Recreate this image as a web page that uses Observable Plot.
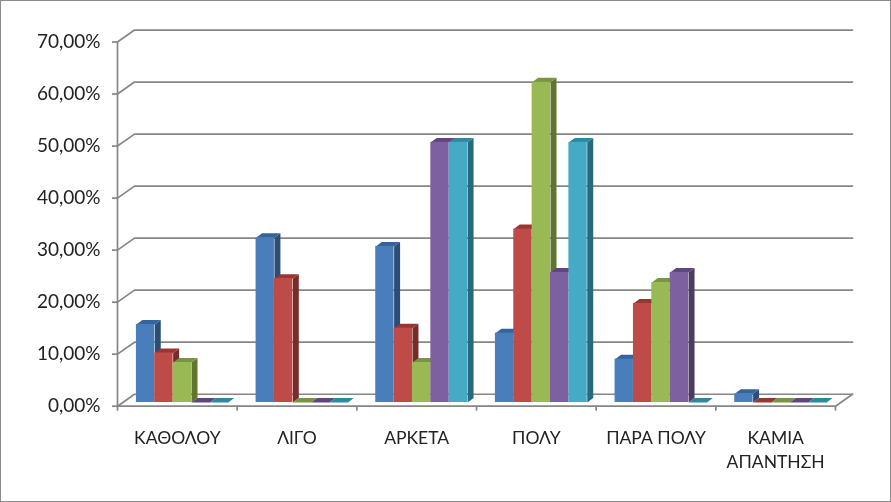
<!DOCTYPE html>
<html>
<head>
<meta charset="utf-8">
<script src="https://cdn.jsdelivr.net/npm/d3@7"></script>
<script src="https://cdn.jsdelivr.net/npm/@observablehq/plot@0.6"></script>
<style>
html,body{margin:0;padding:0;background:#fff}
svg{display:block;outline:1px solid #8a8a8a;outline-offset:-1px;filter:blur(0.35px)}
</style>
</head>
<body>
<div id="chart"></div>
<script>
const categories = ["ΚΑΘΟΛΟΥ", "ΛΙΓΟ", "ΑΡΚΕΤΑ", "ΠΟΛΥ", "ΠΑΡΑ ΠΟΛΥ", "ΚΑΜΙΑ\nΑΠΑΝΤΗΣΗ"];
const blueValues   = [15.00, 31.67, 30.00, 13.33, 8.33, 1.67];
const redValues    = [9.52, 23.81, 14.29, 33.33, 19.05, 0];
const greenValues  = [7.69, 0, 7.69, 61.54, 23.08, 0];
const purpleValues = [0, 0, 50.00, 25.00, 25.00, 0];
const tealValues   = [0, 0, 50.00, 50.00, 0, 0];
const yTicks = [0, 10, 20, 30, 40, 50, 60, 70];

const seriesStyles = [
  {values: blueValues,   front: "#4a7ebb", top: "#35639c", side: "#2c4d75"},
  {values: redValues,    front: "#be4b48", top: "#9a3532", side: "#772c2a"},
  {values: greenValues,  front: "#98b954", top: "#78953f", side: "#5f7530"},
  {values: purpleValues, front: "#7d60a0", top: "#5f4680", side: "#4d3b62"},
  {values: tealValues,   front: "#46aac5", top: "#2f88a2", side: "#276a7c"}
];

// depth of the 3D box, in scale units (categories along x, percent along y)
const wallDx = 0.142, wallDy = 2.3;
const barDx = 0.05, barDy = 0.86;
const baseDx = 0, baseDy = 0.71;
const barStart = 0.158, barWidth = 0.1535;
const gridColor = "#868686";

const gridPaths = yTicks.map(v => [
  {x: 0, y: v},
  {x: wallDx, y: v + wallDy},
  {x: categories.length + wallDx, y: v + wallDy}
]);
const floorEdge = [
  {x: 0, y: 0},
  {x: categories.length, y: 0},
  {x: categories.length + wallDx, y: wallDy}
];

const marks = [];
for (const path of gridPaths) {
  marks.push(Plot.line(path, {x: "x", y: "y", stroke: gridColor, strokeWidth: 1.7}));
}
marks.push(Plot.line(floorEdge, {x: "x", y: "y", stroke: gridColor, strokeWidth: 1.7}));
marks.push(Plot.ruleX([0], {y1: 0, y2: 70, stroke: gridColor, strokeWidth: 1.7}));

categories.forEach((_, c) => {
  seriesStyles.forEach((s, i) => {
    const v = s.values[c];
    const x1 = c + barStart + i * barWidth + baseDx, x2 = x1 + barWidth;
    const y1 = baseDy, y2 = v + baseDy;
    if (v > 0) {
      marks.push(Plot.line([
        {x: x2, y: y1}, {x: x2 + barDx, y: y1 + barDy},
        {x: x2 + barDx, y: y2 + barDy}, {x: x2, y: y2}
      ], {x: "x", y: "y", fill: s.side, stroke: "none"}));
    }
    marks.push(Plot.line([
      {x: x1, y: y2}, {x: x2, y: y2},
      {x: x2 + barDx, y: y2 + barDy}, {x: x1 + barDx, y: y2 + barDy}
    ], {x: "x", y: "y", fill: s.top, stroke: "none"}));
    if (v > 0) {
      marks.push(Plot.rect([{x1, x2, y1, y2}], {x1: "x1", x2: "x2", y1: "y1", y2: "y2", fill: s.front}));
    }
  });
});

marks.push(Plot.axisY({
  ticks: yTicks, tickSize: 5, tickPadding: 12, stroke: gridColor, strokeWidth: 1.7,
  tickFormat: d => d.toFixed(2).replace(".", ",") + "%",
  fontSize: 19, fill: "#222", label: null
}));
marks.push(Plot.axisX({
  ticks: d3.range(categories.length + 1), tickSize: 5, stroke: gridColor, strokeWidth: 1.7,
  tickFormat: () => "", label: null
}));
marks.push(Plot.axisX({
  ticks: categories.map((_, i) => i + 0.5), tickSize: 0, tickPadding: 21,
  tickFormat: d => categories[Math.floor(d)],
  fontSize: 17.5, fill: "#222", label: null, lineHeight: 1.37
}));

const chart = Plot.plot({
  width: 891, height: 502,
  marginLeft: 117, marginRight: 56, marginTop: 41.5, marginBottom: 96.3,
  style: {fontFamily: "Lato, 'Open Sans', sans-serif", background: "#fff"},
  x: {type: "linear", domain: [0, categories.length]},
  y: {type: "linear", domain: [0, 70]},
  marks
});
document.getElementById("chart").appendChild(chart);
</script>
</body>
</html>
